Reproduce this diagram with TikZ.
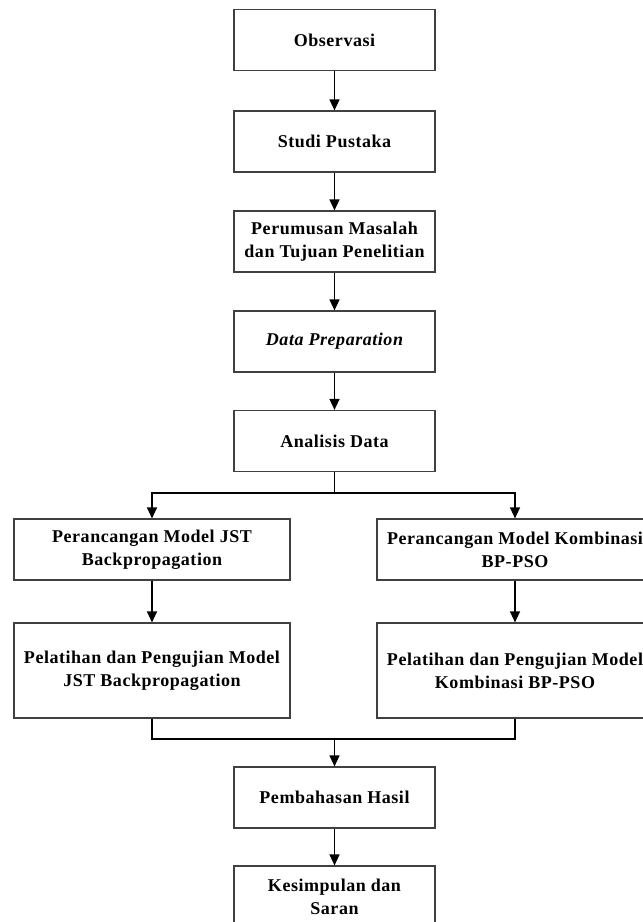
\documentclass[tikz,border=0pt]{standalone}
\usepackage{fontspec}
\setmainfont{Liberation Serif}[LetterSpace=3]
\usepackage{tikz}
\usetikzlibrary{arrows.meta}

\begin{document}
\begin{tikzpicture}[x=1pt,y=-1pt,
  box/.style={draw=black!75,line width=1.2pt,align=center,
    font=\fontsize{18}{23}\selectfont\bfseries,inner sep=0pt},
  small/.style={box,minimum width=201pt,minimum height=61pt},
  wide/.style={box,minimum width=276pt,minimum height=61pt},
  tall/.style={box,minimum width=276pt,minimum height=95pt},
  flow/.style={line width=1.4pt,-{Triangle[width=10pt,length=11pt]}},
  link/.style={line width=1.4pt}]

\useasboundingbox (0,0) rectangle (643,922);

\node[small] (obs) at (334.5,40) {Observasi};
\node[small] (studi) at (334.5,141.5) {Studi Pustaka};
\node[small] (rumus) at (334.5,241.5) {Perumusan Masalah\\dan Tujuan Penelitian};
\node[small] (prep) at (334.5,341.5) {\itshape Data Preparation};
\node[small] (anal) at (334.5,441) {Analisis Data};

\node[wide] (rancjst) at (152,549.5) {Perancangan Model JST\\Backpropagation};
\node[wide] (rancbp) at (515,549.5) {Perancangan Model Kombinasi\\BP-PSO};
\node[tall] (latjst) at (152,670.5) {Pelatihan dan Pengujian Model\\JST Backpropagation};
\node[tall] (latbp) at (515,670.5) {Pelatihan dan Pengujian Model\\Kombinasi BP-PSO};

\node[small] (bahas) at (334.5,797.5) {Pembahasan Hasil};
\node[small] (simpul) at (334.5,896.5) {Kesimpulan dan\\Saran};

\coordinate (split) at (334.5,493);
\coordinate (merge) at (334.5,739);

\draw[flow] (obs) -- (studi);
\draw[flow] (studi) -- (rumus);
\draw[flow] (rumus) -- (prep);
\draw[flow] (prep) -- (anal);

\draw[link] (anal) -- (split);
\draw[flow] (split) -| (rancjst);
\draw[flow] (split) -| (rancbp);
\draw[flow] (rancjst) -- (latjst);
\draw[flow] (rancbp) -- (latbp);

\draw[link] (latjst) |- (merge);
\draw[link] (latbp) |- (merge);
\draw[flow] (merge) -- (bahas);
\draw[flow] (bahas) -- (simpul);
\end{tikzpicture}
\end{document}
